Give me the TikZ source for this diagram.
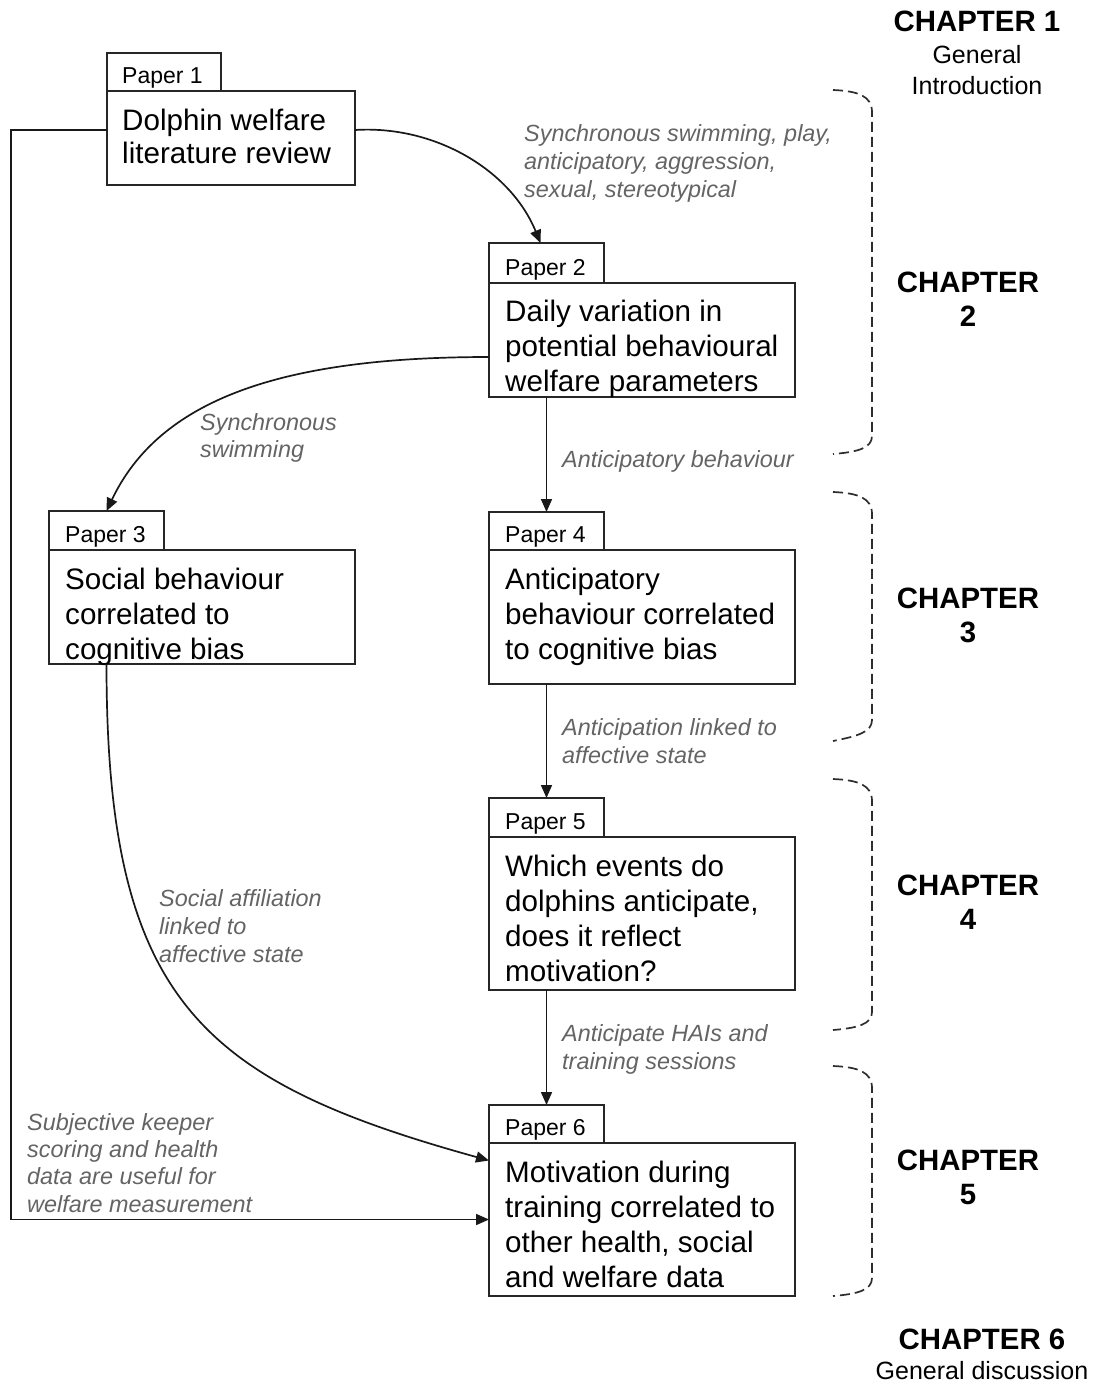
\documentclass[tikz,border=0pt]{standalone}
\usepackage{fontspec}
\setmainfont{Liberation Sans}
\usetikzlibrary{arrows.meta}
\definecolor{lblgray}{RGB}{100,100,100}
\definecolor{bracegray}{RGB}{45,45,45}
\newcommand{\mystrut}[1]{\rule{0pt}{#1pt}}
\begin{document}
\begin{tikzpicture}[x=1pt,y=-1pt,
  box/.style={draw=black!85, line width=1.8pt, inner sep=0pt, outer sep=0pt, anchor=north west},
  maintext/.style={inner sep=0pt, anchor=north west, align=left, font=\fontsize{29.6}{35}\selectfont},
  tabtext/.style={inner sep=0pt, anchor=base west, font=\fontsize{23}{28}\selectfont},
  lbl/.style={inner sep=0pt, anchor=north west, align=left, text=lblgray, font=\fontsize{23.4}{28}\selectfont\itshape},
  chap/.style={inner sep=0pt, anchor=north, align=center, font=\fontsize{29.4}{34}\selectfont\bfseries},
  chapsub/.style={inner sep=0pt, anchor=north, align=center, font=\fontsize{25}{31}\selectfont},
  arr/.style={line width=1.7pt, draw=black!90, -{Triangle[length=13pt,width=11pt]}},
  brace/.style={draw=bracegray, line width=1.7pt, dash pattern=on 10pt off 5pt}
]
\useasboundingbox (0,0) rectangle (1099,1385);

% ---------- boxes ----------
\node[box, minimum width=114pt, minimum height=38pt] (t1) at (107,53) {};
\node[box, minimum width=248pt, minimum height=94pt] (p1) at (107,91) {};
\node[box, minimum width=115pt, minimum height=40pt] (t2) at (489,243) {};
\node[box, minimum width=306pt, minimum height=114pt] (p2) at (489,283) {};
\node[box, minimum width=115pt, minimum height=39pt] (t3) at (49,511) {};
\node[box, minimum width=306pt, minimum height=114pt] (p3) at (49,550) {};
\node[box, minimum width=115pt, minimum height=38pt] (t4) at (489,512) {};
\node[box, minimum width=306pt, minimum height=134pt] (p4) at (489,550) {};
\node[box, minimum width=115pt, minimum height=39pt] (t5) at (489,798) {};
\node[box, minimum width=306pt, minimum height=153pt] (p5) at (489,837) {};
\node[box, minimum width=115pt, minimum height=38pt] (t6) at (489,1105) {};
\node[box, minimum width=306pt, minimum height=153pt] (p6) at (489,1143) {};

% ---------- tab labels ----------
\node[tabtext] (t1l) at (122,83) {Paper 1};
\node[tabtext] (t2l) at (505,275) {Paper 2};
\node[tabtext] (t3l) at (65,542) {Paper 3};
\node[tabtext] (t4l) at (505,542) {Paper 4};
\node[tabtext] (t5l) at (505,829) {Paper 5};
\node[tabtext] (t6l) at (505,1135) {Paper 6};

% ---------- main texts ----------
\node[maintext, font=\fontsize{29.6}{33}\selectfont] (p1t) at (122,107.8) {\mystrut{22.2}Dolphin welfare\\literature review};
\node[maintext] (p2t) at (505,298.8) {\mystrut{22.2}Daily variation in\\potential behavioural\\welfare parameters};
\node[maintext] (p3t) at (65,566.8) {\mystrut{22.2}Social behaviour\\correlated to\\cognitive bias};
\node[maintext] (p4t) at (505,566.8) {\mystrut{22.2}Anticipatory\\behaviour correlated\\to cognitive bias};
\node[maintext] (p5t) at (505,853.8) {\mystrut{22.2}Which events do\\dolphins anticipate,\\does it reflect\\motivation?};
\node[maintext] (p6t) at (505,1159.8) {\mystrut{22.2}Motivation during\\training correlated to\\other health, social\\and welfare data};

% ---------- connector labels ----------
\node[lbl] (l1) at (524,123.5) {\mystrut{17.5}Synchronous swimming, play,\\anticipatory, aggression,\\sexual, stereotypical};
\node[lbl, font=\fontsize{23.4}{27}\selectfont\itshape] (l2) at (200,412.5) {\mystrut{17.5}Synchronous\\swimming};
\node[lbl] (l3) at (562,449.5) {\mystrut{17.5}Anticipatory behaviour};
\node[lbl] (l4) at (562,717.5) {\mystrut{17.5}Anticipation linked to\\affective state};
\node[lbl] (l5) at (562,1023.5) {\mystrut{17.5}Anticipate HAIs and\\training sessions};
\node[lbl] (l6) at (159,888.5) {\mystrut{17.5}Social affiliation\\linked to\\affective state};
\node[lbl, font=\fontsize{23.4}{27.3}\selectfont\itshape] (l7) at (27,1112.5) {\mystrut{17.5}Subjective keeper\\scoring and health\\data are useful for\\welfare measurement};

% ---------- chapter texts ----------
\node[chap] (c1) at (977,9.5) {\mystrut{22}CHAPTER 1};
\node[chapsub] (c1s) at (977,44) {\mystrut{19}General\\Introduction};
\node[chap] (c2) at (968,270) {\mystrut{22}CHAPTER\\2};
\node[chap] (c3) at (968,586) {\mystrut{22}CHAPTER\\3};
\node[chap] (c4) at (968,873) {\mystrut{22}CHAPTER\\4};
\node[chap] (c5) at (968,1148) {\mystrut{22}CHAPTER\\5};
\node[chap] (c6) at (982,1327) {\mystrut{22}CHAPTER 6};
\node[chapsub] (c6s) at (982,1360) {\mystrut{19}General discussion};

% ---------- connectors ----------
\draw[arr] ([yshift=8pt]p1.west) -- ++(-96,0) |- (p6.west);
\draw[arr] ([yshift=8pt]p1.east) .. controls +(80,-5) and +(-30,-73) .. ([xshift=-6pt]t2.north);
\draw[arr] ([yshift=-17pt]p2.west) .. controls +(-209,0) and +(53,-111) .. (t3.north);
\draw[arr] (t2.north |- p2.south) -- (t4.north);
\draw[arr] (t4.north |- p4.south) -- (t5.north);
\draw[arr] (t5.north |- p5.south) -- (t6.north);
\draw[arr] (t3.north |- p3.south) .. controls +(0,336) and +(-289,-80) .. ([yshift=59pt]p6.west);

% ---------- chapter braces ----------
\draw[brace] (833,90) .. controls (858,91) and (872,96) .. (872,112) -- (872,436) .. controls (872,448) and (858,452) .. (833,454);
\draw[brace] (833,492) .. controls (858,493) and (872,498) .. (872,514) -- (872,720) .. controls (872,732) and (858,736) .. (833,741);
\draw[brace] (833,779) .. controls (858,780) and (872,785) .. (872,801) -- (872,1012) .. controls (872,1024) and (858,1028) .. (833,1030);
\draw[brace] (833,1066) .. controls (858,1067) and (872,1072) .. (872,1088) -- (872,1278) .. controls (872,1290) and (858,1294) .. (833,1296);
\end{tikzpicture}
\end{document}
